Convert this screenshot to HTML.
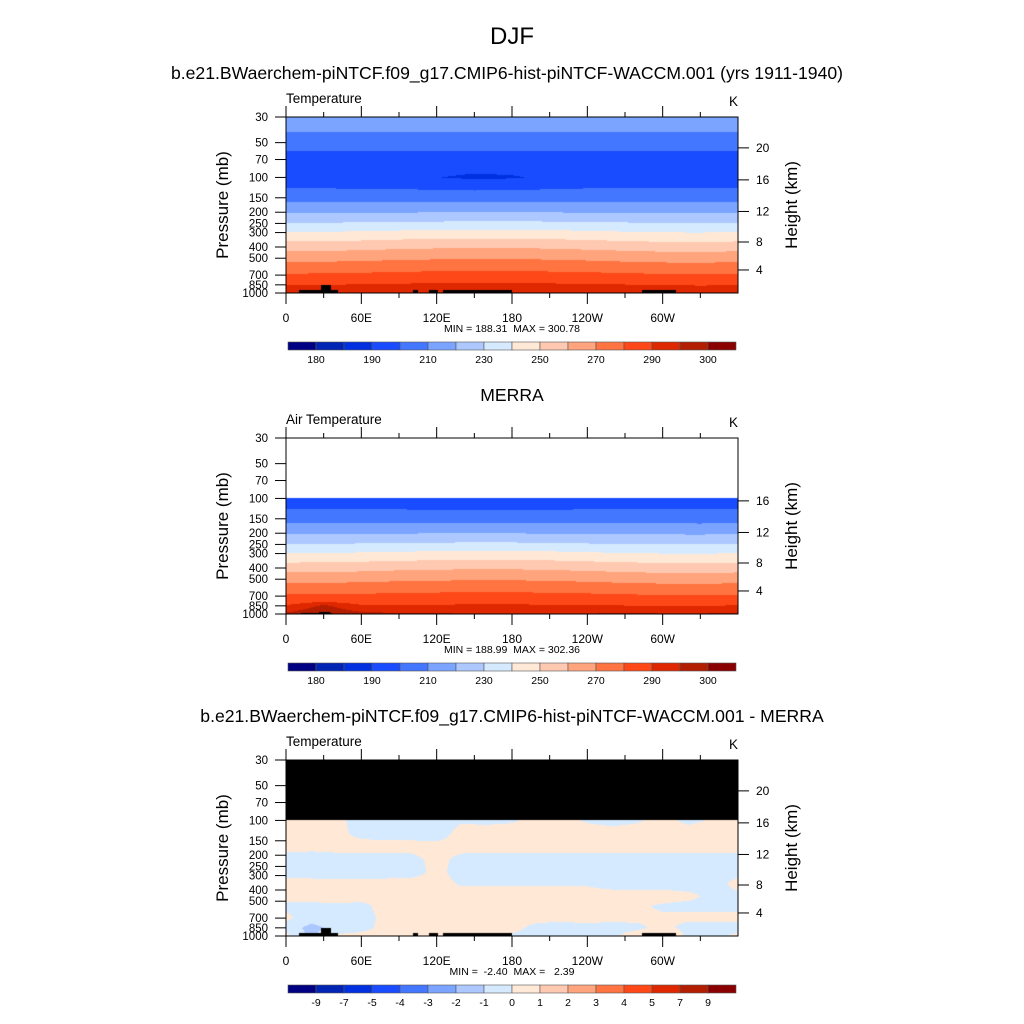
<!DOCTYPE html>
<html><head><meta charset="utf-8"><style>
html,body{margin:0;padding:0;background:#fff;}
#wrap{position:relative;width:1024px;height:1024px;overflow:hidden;font-family:"Liberation Sans",sans-serif;}
canvas{position:absolute;}
svg{position:absolute;left:0;top:0;}
</style></head><body>
<div id="wrap">
<canvas id="c1" width="452" height="176" style="left:286px;top:117px"></canvas>
<canvas id="c2" width="452" height="176" style="left:286px;top:438px"></canvas>
<canvas id="c3" width="452" height="176" style="left:286px;top:760px"></canvas>
<svg id="ov" width="1024" height="1024" xmlns="http://www.w3.org/2000/svg">
<text x="512" y="44" font-size="24" text-anchor="middle">DJF</text>
<text x="507" y="79" font-size="17.6" text-anchor="middle">b.e21.BWaerchem-piNTCF.f09_g17.CMIP6-hist-piNTCF-WACCM.001 (yrs 1911-1940)</text>
<text x="512" y="401" font-size="17.6" text-anchor="middle">MERRA</text>
<text x="512" y="722" font-size="17.6" text-anchor="middle">b.e21.BWaerchem-piNTCF.f09_g17.CMIP6-hist-piNTCF-WACCM.001 - MERRA</text>
</svg>
</div>
<script>
// ---- data ----
const lons=[0,30,60,90,120,150,180,210,240,270,300,330,360];
const plev=[30,50,70,100,150,200,250,300,400,500,700,850,1000];
const modelT=[
[219,219,219,219,219,219,219,219,219,219,219,218.8,219],
[204,204,204,204,204,204,204,204,204,204,204,204,204],
[196,196,196,196,195.8,195.5,195.5,195.8,196,196,196,196,196],
[193,193,192.5,192,190.2,188.5,189.2,191.5,193,193,193,193,193],
[206,206,206,206,206.2,206.4,206.4,206.2,206,206,206,206,206],
[219.3,219.3,219.4,219.6,219.8,220,220,219.8,219.5,219.3,219.2,219.1,219.3],
[230.9,230.9,231,231.5,232,232.5,232.5,232,231.5,231,230.5,230.5,230.9],
[240.6,240.8,241.5,242.5,243,243.5,243.5,243,242,241,240.2,240,240.6],
[256,256.2,257,258,258.7,259,259,258.5,257.5,256.5,255.5,255,256],
[266.7,267,267.5,268.5,269,269.3,269.3,268.8,268,267,266.3,266,266.7],
[281.2,281.5,282,282.8,283.2,283.5,283.5,283,282.5,281.8,281,280.8,281.2],
[289.8,290,290.5,291,291.4,291.6,291.5,291.2,290.8,290.3,289.8,289.6,289.8],
[294,294.3,294.5,294.6,294.6,294.6,294.5,294.4,294.3,294.5,294.5,294.2,294]];
const merraLev=[100,150,200,250,300,400,500,700,850,1000];
const merraT=[
[193.5,193.5,193.3,193,192,191.3,191.5,192.5,193.3,193.5,193.5,193.5,193.5],
[206,206,206,206,206.2,206.3,206.2,206,205.8,205.8,206,205.8,206],
[219.2,219.2,219.4,219.6,219.8,219.9,219.8,219.5,219,218.8,218.8,218.6,219.2],
[230.6,230.7,231,231.4,231.9,232.3,232.2,231.6,231,230.6,230.2,230.2,230.6],
[240.4,240.6,241.3,242.2,242.8,243.3,243.3,242.7,241.6,240.6,240,239.8,240.4],
[255.8,256,256.8,257.8,258.5,258.8,258.8,258.2,257.2,256.2,255.3,254.8,255.8],
[266.5,266.8,267.3,268.3,268.8,269.1,269.1,268.6,267.8,266.8,266.1,265.8,266.5],
[281.4,281.8,282,282.6,283,283.3,283.3,282.8,282.3,281.6,281,280.8,281.4],
[290.6,296,291,290.8,291,291.2,291.2,291,290.7,290.3,290,289.8,290.6],
[296,299,296.5,295.5,295.3,295.2,295,295,295.2,295.5,295.3,295.2,296]];
const diffLon=[0,20,40,60,80,100,120,140,160,180,200,220,240,260,280,300,320,340,360];
const diffLev=[100,130,170,220,280,350,450,550,700,850,1000];
const diffT=[
[0.3,0.3,0.2,-0.3,-0.4,-0.4,-0.3,-0.1,-0.2,-0.1,0.3,0.3,-0.1,-0.3,-0.1,0.3,-0.2,0.1,0.3],
[0.4,0.4,0.2,-0.2,-0.3,-0.3,-0.4,0.3,0.4,0.4,0.4,0.4,0.4,0.4,0.4,0.4,0.4,0.4,0.4],
[0.3,0.3,0.3,0.3,0.3,0.3,0.3,0.3,0.3,0.3,0.3,0.3,0.3,0.3,0.3,0.3,0.3,0.3,0.3],
[-0.4,-0.6,-0.4,-0.4,-0.4,-0.3,0.3,-0.3,-0.4,-0.4,-0.4,-0.4,-0.4,-0.4,-0.4,-0.4,-0.4,-0.4,-0.4],
[-0.3,-0.4,-0.4,-0.4,-0.4,-0.3,0.2,-0.3,-0.4,-0.4,-0.4,-0.4,-0.4,-0.4,-0.4,-0.4,-0.4,-0.6,-0.3],
[0.3,0.3,0.3,0.3,0.3,0.3,0.3,-0.1,-0.1,-0.1,-0.1,-0.1,-0.1,-0.3,-0.3,-0.3,-0.4,-0.4,0.3],
[0.3,0.3,0.3,0.3,0.3,0.3,0.3,0.3,0.3,0.3,0.3,0.3,0.3,0.3,0.3,0.3,0.2,-0.2,-0.2],
[-0.2,-0.2,-0.1,-0.2,0.3,0.3,0.3,0.3,0.3,0.3,0.3,0.3,0.3,0.3,0.1,-0.1,-0.2,-0.2,-0.2],
[0.2,-0.5,-0.4,-0.3,0.2,0.4,0.4,0.4,0.4,0.3,0.2,0.2,0.3,0.2,0.2,0.1,0.2,0.2,0.2],
[-0.3,-1.4,-0.6,-0.3,0.3,0.3,0.4,0.5,0.4,0.2,-0.2,-0.3,-0.3,-0.3,-0.2,0.3,-0.3,-0.3,-0.3],
[0.3,-1.3,0.2,0.3,0.4,0.4,0.4,0.8,0.4,-0.1,-0.3,-0.3,-0.3,-0.2,0.5,1.2,-0.2,-0.3,0.2]];
const topoLon0=[10,27.6,101,113.5,124.9,283.5];
const topoLon1=[41.8,36.2,105,121,179.8,310.3];
const topoP=[943,853,943,943,943,943];
const merraTopoLon0=[12,26];
const merraTopoLon1=[37,35];
const merraTopoP=[975,955];
const tLevels=[180,185,190,200,210,220,230,240,250,260,270,280,290,295,300];
const dLevels=[-9,-7,-5,-4,-3,-2,-1,0,1,2,3,4,5,7,9];
const tLabelIdx=[0,2,4,6,8,10,12,14];
const pTicks=[30,50,70,100,150,200,250,300,400,500,700,850,1000];
const lonTicks=[0,30,60,90,120,150,180,210,240,270,300,330];
const lonLabels={0:"0",60:"60E",120:"120E",180:"180",240:"120W",300:"60W"};
const hKm=[4,8,12,16,20];
const hP=[632,362,197,105,55.5];
const palette=["#000082","#0024b4","#0030e0","#1a4cff","#4477ff","#7aa4ff","#adc8ff","#d6eaff","#ffe8d6","#ffc8b0","#ffa47c","#ff7440","#ff4818","#e02800","#b41e00","#8a0000"];

// ---- geometry ----
const X0=286,W=452,H=176,LOGR=Math.log10(1000/30);
const tops=[117,438,760];
function xOf(lon){return X0+W*lon/360;}
function yOf(p,top){return top+H*Math.log10(p/30)/LOGR;}
function colIdx(v,lev){let i=0;while(i<lev.length&&v>=lev[i])i++;return i;}
function interp(lonArr,levArr,grid,lon,p){
  let j=0;while(j<lonArr.length-2&&lon>lonArr[j+1])j++;
  let fx=(lon-lonArr[j])/(lonArr[j+1]-lonArr[j]);
  let i=0;while(i<levArr.length-2&&p>levArr[i+1])i++;
  let fy=(Math.log(p)-Math.log(levArr[i]))/(Math.log(levArr[i+1])-Math.log(levArr[i]));
  fy=Math.max(0,Math.min(1,fy));
  const a=grid[i][j]*(1-fx)+grid[i][j+1]*fx, b=grid[i+1][j]*(1-fx)+grid[i+1][j+1]*fx;
  return a*(1-fy)+b*fy;
}
function hex(c){return [parseInt(c.substr(1,2),16),parseInt(c.substr(3,2),16),parseInt(c.substr(5,2),16)];}
const pal=palette.map(hex);
function drawField(id,lonArr,levArr,grid,lev,pmin,missColor,t0,t1,tp){
  const cv=document.getElementById(id),ctx=cv.getContext('2d');
  const img=ctx.createImageData(W,H);
  for(let py=0;py<H;py++){
    const p=30*Math.pow(10,(py+0.5)/H*LOGR);
    for(let px=0;px<W;px++){
      const lon=(px+0.5)/W*360;let c;
      if(p<pmin){c=missColor;}
      else{
        c=pal[colIdx(interp(lonArr,levArr,grid,lon,p),lev)];
        for(let k=0;k<t0.length;k++){if(lon>=t0[k]&&lon<=t1[k]&&p>=tp[k]){c=[0,0,0];}}
      }
      const o=(py*W+px)*4;img.data[o]=c[0];img.data[o+1]=c[1];img.data[o+2]=c[2];img.data[o+3]=255;
    }
  }
  ctx.putImageData(img,0,0);
}
drawField('c1',lons,plev,modelT,tLevels,0,[255,255,255],topoLon0,topoLon1,topoP);
drawField('c2',lons,merraLev,merraT,tLevels,100,[255,255,255],merraTopoLon0,merraTopoLon1,merraTopoP);
drawField('c3',diffLon,diffLev,diffT,dLevels,100,[0,0,0],topoLon0,topoLon1,topoP);

// ---- axes ----
const svg=document.getElementById('ov');const NS="http://www.w3.org/2000/svg";
function mk(tag,attrs,parent){const e=document.createElementNS(NS,tag);for(const k in attrs)e.setAttribute(k,attrs[k]);(parent||svg).appendChild(e);return e;}
const panelInfo=[
 {label:"Temperature",mm:"MIN = 188.31  MAX = 300.78",lev:tLevels,idx:tLabelIdx,hmin:0},
 {label:"Air Temperature",mm:"MIN = 188.99  MAX = 302.36",lev:tLevels,idx:tLabelIdx,hmin:100},
 {label:"Temperature",mm:"MIN =  -2.40  MAX =   2.39",lev:dLevels,idx:dLevels.map((d,i)=>i),hmin:0}];
panelInfo.forEach((pi,n)=>{
  const top=tops[n];
  const g=mk('g',{});
  
  
  const fr=mk('rect',{x:X0,y:top,width:W,height:H,fill:'none',stroke:'#000','stroke-width':1},g);
  
  
  const lt=mk('text',{x:X0,y:top-14,'font-size':13.5},g);lt.textContent=pi.label;
  
  
  const ku=mk('text',{x:729,y:top-11,'font-size':13.5},g);ku.textContent="K";
  
  
  pTicks.forEach(p=>{
    const y=yOf(p,top);
    mk('line',{x1:X0-11,x2:X0,y1:y,y2:y,stroke:'#000'},g);
    const t=mk('text',{x:268,y:y+4,'font-size':11.5,'text-anchor':'end'},g);t.textContent=p;
    
    
  });
  lonTicks.forEach(l=>{
    const x=xOf(l),maj=(l%60===0);
    mk('line',{x1:x,x2:x,y1:top,y2:top-(maj?11:5),stroke:'#000'},g);
    mk('line',{x1:x,x2:x,y1:top+H,y2:top+H+(maj?11:5),stroke:'#000'},g);
    if(maj){const t=mk('text',{x:x,y:top+H+29,'font-size':12,'text-anchor':'middle'},g);t.textContent=lonLabels[l];
      
      }
  });
  hKm.forEach((h,i)=>{
    if(hP[i]<pi.hmin)return;
    const y=yOf(hP[i],top);
    mk('line',{x1:X0+W,x2:X0+W+11,y1:y,y2:y,stroke:'#000'},g);
    const t=mk('text',{x:756,y:y+4,'font-size':12},g);t.textContent=h;
    
    
  });
  const yl=mk('text',{x:0,y:0,'font-size':17,'text-anchor':'middle',transform:`translate(228,${top+88}) rotate(-90)`},g);yl.textContent="Pressure (mb)";
  
  
  const yr=mk('text',{x:0,y:0,'font-size':17,'text-anchor':'middle',transform:`translate(797,${top+88}) rotate(-90)`},g);yr.textContent="Height (km)";
  
  
  const mm=mk('text',{x:512,y:top+H+39,'font-size':10.5,'text-anchor':'middle',style:'white-space:pre'},g);mm.textContent=pi.mm;
  
  
  // colorbar
  const cb=mk('g',{},g);
  
  
  const cy=top+225;
  palette.forEach((c,k)=>{
    const r=mk('rect',{x:288+28*k,y:cy,width:28,height:8,fill:c,stroke:'#555','stroke-width':0.6},cb);
    
    
  });
  pi.idx.forEach(k=>{
    const t=mk('text',{x:288+28*(k+1),y:cy+21,'font-size':10.5,'text-anchor':'middle'},cb);t.textContent=pi.lev[k];
    
    
  });
});
</script>
</body></html>
